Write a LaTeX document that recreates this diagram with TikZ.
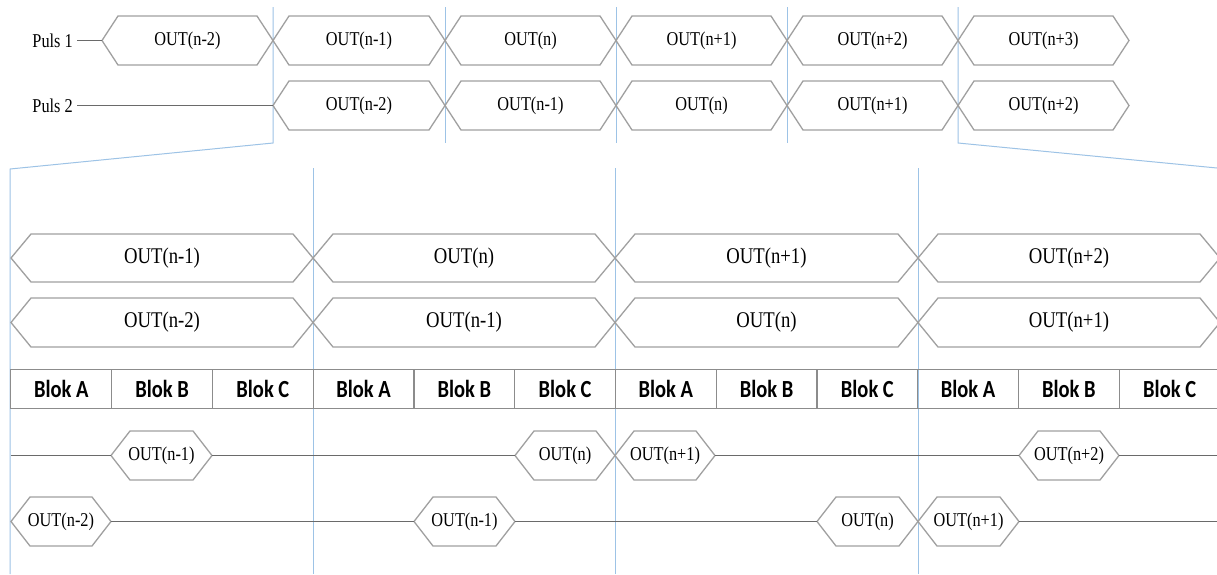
\documentclass[tikz,border=0pt]{standalone}
\usepackage{fontspec}
\usepackage{graphicx}
\setmainfont{Liberation Serif}
\newfontfamily\blokfont{Carlito}

\definecolor{guide}{HTML}{9DC3E6}
\definecolor{hexgray}{HTML}{A0A0A0}
\definecolor{wire}{HTML}{6A6A6A}
\definecolor{cellgray}{HTML}{8C8C8C}

% text is set slightly taller than wide
\newcommand{\tall}[1]{\scalebox{1}[1.2]{#1}}

% elongated hexagon with a centred label:
% #1 name, #2 left tip x, #3 right tip x, #4 mid y, #5 half height,
% #6 shoulder width, #7 label style, #8 label
\newcommand{\hexcell}[8]{%
  \coordinate (#1-w) at (#2,#4);
  \coordinate (#1-e) at (#3,#4);
  \draw[hexline] (#1-w) -- ({#2+#6},{#4-#5}) -- ({#3-#6},{#4-#5}) -- (#1-e)
        -- ({#3-#6},{#4+#5}) -- ({#2+#6},{#4+#5}) -- cycle;
  \node[#7] (#1) at ({(#2+#3)/2},#4) {\tall{#8}};
}

\tikzset{
  hexline/.style={draw=hexgray, line width=1.3pt, line join=miter},
  wireline/.style={draw=wire, line width=1.1pt},
  guideline/.style={draw=guide, line width=1pt},
  lbl/.style={inner sep=0pt, font=\fontsize{16.3}{18}\selectfont},
  biglbl/.style={inner sep=0pt, font=\fontsize{18.7}{21}\selectfont},
  blokcell/.style={draw=cellgray, line width=1pt, minimum width=100.8pt,
    minimum height=39pt, inner sep=0pt, outer sep=0pt,
    font=\blokfont\bfseries\fontsize{20.5}{22}\selectfont},
}

\begin{document}
\begin{tikzpicture}[x=1pt, y=-1pt]
\fill[white] (0,0) rectangle (1217,574);
\useasboundingbox (0,0) rectangle (1217,574);

% ---- guide lines (behind everything) ----
\coordinate (gl-top) at (273,7);
\coordinate (gl-knee) at (273,143);
\coordinate (gl-corner) at (10,169);
\coordinate (gl-bottom) at (10,574);
\coordinate (gr-top) at (958,7);
\coordinate (gr-knee) at (958,143);
\coordinate (gr-end) at (1217,168);
\draw[guideline] (gl-bottom) -- (gl-corner) -- (gl-knee) -- (gl-top);
\draw[guideline] (gr-top) -- (gr-knee) -- (gr-end);
\foreach \x in {445,616,787} \draw[guideline] (\x,7) -- (\x,143);
\foreach \x in {313,615,918} \draw[guideline] (\x,168) -- (\x,574);

% ---- upper timing rows ----
\node[lbl, anchor=east] (p1) at (73,40.5) {\tall{Puls 1}};
\node[lbl, anchor=east] (p2) at (73,105.5) {\tall{Puls 2}};

\hexcell{ta1}{102}{273}{40.5}{24.5}{16}{lbl}{OUT(n-2)}
\hexcell{ta2}{273}{445}{40.5}{24.5}{16}{lbl}{OUT(n-1)}
\hexcell{ta3}{445}{616}{40.5}{24.5}{16}{lbl}{OUT(n)}
\hexcell{ta4}{616}{787}{40.5}{24.5}{16}{lbl}{OUT(n+1)}
\hexcell{ta5}{787}{958}{40.5}{24.5}{16}{lbl}{OUT(n+2)}
\hexcell{ta6}{958}{1129}{40.5}{24.5}{16}{lbl}{OUT(n+3)}

\hexcell{tb1}{273}{445}{105.5}{24.5}{16}{lbl}{OUT(n-2)}
\hexcell{tb2}{445}{616}{105.5}{24.5}{16}{lbl}{OUT(n-1)}
\hexcell{tb3}{616}{787}{105.5}{24.5}{16}{lbl}{OUT(n)}
\hexcell{tb4}{787}{958}{105.5}{24.5}{16}{lbl}{OUT(n+1)}
\hexcell{tb5}{958}{1129}{105.5}{24.5}{16}{lbl}{OUT(n+2)}

\draw[wireline] ([xshift=4pt]p1.east) -- (ta1-w);
\draw[wireline] ([xshift=4pt]p2.east) -- (tb1-w);

% ---- enlarged rows ----
\hexcell{ba1}{11}{313}{258}{24}{20}{biglbl}{OUT(n-1)}
\hexcell{ba2}{313}{615}{258}{24}{20}{biglbl}{OUT(n)}
\hexcell{ba3}{615}{918}{258}{24}{20}{biglbl}{OUT(n+1)}
\hexcell{ba4}{918}{1220}{258}{24}{20}{biglbl}{OUT(n+2)}

\hexcell{bb1}{11}{313}{322.5}{24.5}{20}{biglbl}{OUT(n-2)}
\hexcell{bb2}{313}{615}{322.5}{24.5}{20}{biglbl}{OUT(n-1)}
\hexcell{bb3}{615}{918}{322.5}{24.5}{20}{biglbl}{OUT(n)}
\hexcell{bb4}{918}{1220}{322.5}{24.5}{20}{biglbl}{OUT(n+1)}

% ---- block row ----
\foreach \i/\t in {0/A,1/B,2/C,3/A,4/B,5/C,6/A,7/B,8/C,9/A,10/B,11/C}
  \node[blokcell] (blk\i) at ({11+100.75*(\i+0.5)},388.5) {\tall{Blok \t}};

% ---- output rows ----
\hexcell{ra1}{111}{212}{455.5}{24.5}{19}{lbl}{OUT(n-1)}
\hexcell{ra2}{515}{615}{455.5}{24.5}{19}{lbl}{OUT(n)}
\hexcell{ra3}{615}{715}{455.5}{24.5}{19}{lbl}{OUT(n+1)}
\hexcell{ra4}{1019}{1119}{455.5}{24.5}{19}{lbl}{OUT(n+2)}

\hexcell{rb1}{11}{111}{521.5}{24.5}{19}{lbl}{OUT(n-2)}
\hexcell{rb2}{414}{515}{521.5}{24.5}{19}{lbl}{OUT(n-1)}
\hexcell{rb3}{817}{918}{521.5}{24.5}{19}{lbl}{OUT(n)}
\hexcell{rb4}{918}{1019}{521.5}{24.5}{19}{lbl}{OUT(n+1)}

\coordinate (ra-start) at (11,455.5);
\coordinate (ra-end) at (1217,455.5);
\coordinate (rb-end) at (1217,521.5);
\draw[wireline] (ra-start) -- (ra1-w);
\draw[wireline] (ra1-e) -- (ra2-w);
\draw[wireline] (ra3-e) -- (ra4-w);
\draw[wireline] (ra4-e) -- (ra-end);
\draw[wireline] (rb1-e) -- (rb2-w);
\draw[wireline] (rb2-e) -- (rb3-w);
\draw[wireline] (rb4-e) -- (rb-end);
\end{tikzpicture}
\end{document}
